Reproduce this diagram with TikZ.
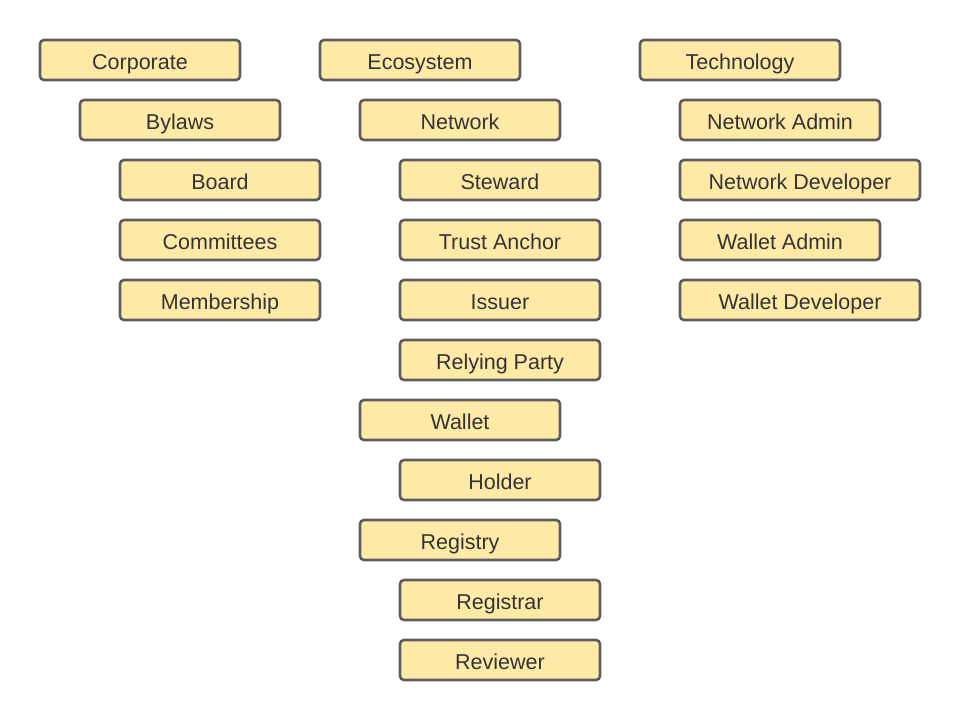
\documentclass[tikz,border=0pt]{standalone}
\usepackage{fontspec}
\setmainfont{Liberation Sans}
\definecolor{boxfill}{HTML}{FFE9A6}
\definecolor{boxline}{HTML}{5E5E5E}
\definecolor{boxtext}{HTML}{333333}
\tikzset{
  topic/.style={draw=boxline,fill=boxfill,line width=2.6pt,rounded corners=4pt,
    minimum width=200pt,minimum height=40pt,inner sep=0pt,text=boxtext,
    text height=19pt,text depth=0pt,font=\fontsize{21.5}{25}\selectfont},
  wide/.style={topic,minimum width=240pt}
}
\begin{document}
\begin{tikzpicture}[x=1pt,y=-1pt]
  \useasboundingbox (0,0) rectangle (960,720);
  % column 1
  \foreach \n/\x/\y/\t in {corporate/40/40/Corporate, bylaws/80/100/Bylaws,
      board/120/160/Board, committees/120/220/Committees, membership/120/280/Membership} {
    \node [topic] (\n) at (\x+100,\y+20) {\t};
  }
  % column 2
  \foreach \n/\x/\y/\t in {ecosystem/320/40/Ecosystem, network/360/100/Network,
      steward/400/160/Steward, trustanchor/400/220/Trust Anchor, issuer/400/280/Issuer,
      relyingparty/400/340/Relying Party, wallet/360/400/Wallet, holder/400/460/Holder,
      registry/360/520/Registry, registrar/400/580/Registrar, reviewer/400/640/Reviewer} {
    \node [topic] (\n) at (\x+100,\y+20) {\t};
  }
  % column 3
  \foreach \n/\x/\y/\t in {technology/640/40/Technology, netadmin/680/100/Network Admin,
      walletadmin/680/220/Wallet Admin} {
    \node [topic] (\n) at (\x+100,\y+20) {\t};
  }
  \foreach \n/\y/\t in {netdev/160/Network Developer, walletdev/280/Wallet Developer} {
    \node [wide] (\n) at (800,\y+20) {\t};
  }
\end{tikzpicture}
\end{document}
